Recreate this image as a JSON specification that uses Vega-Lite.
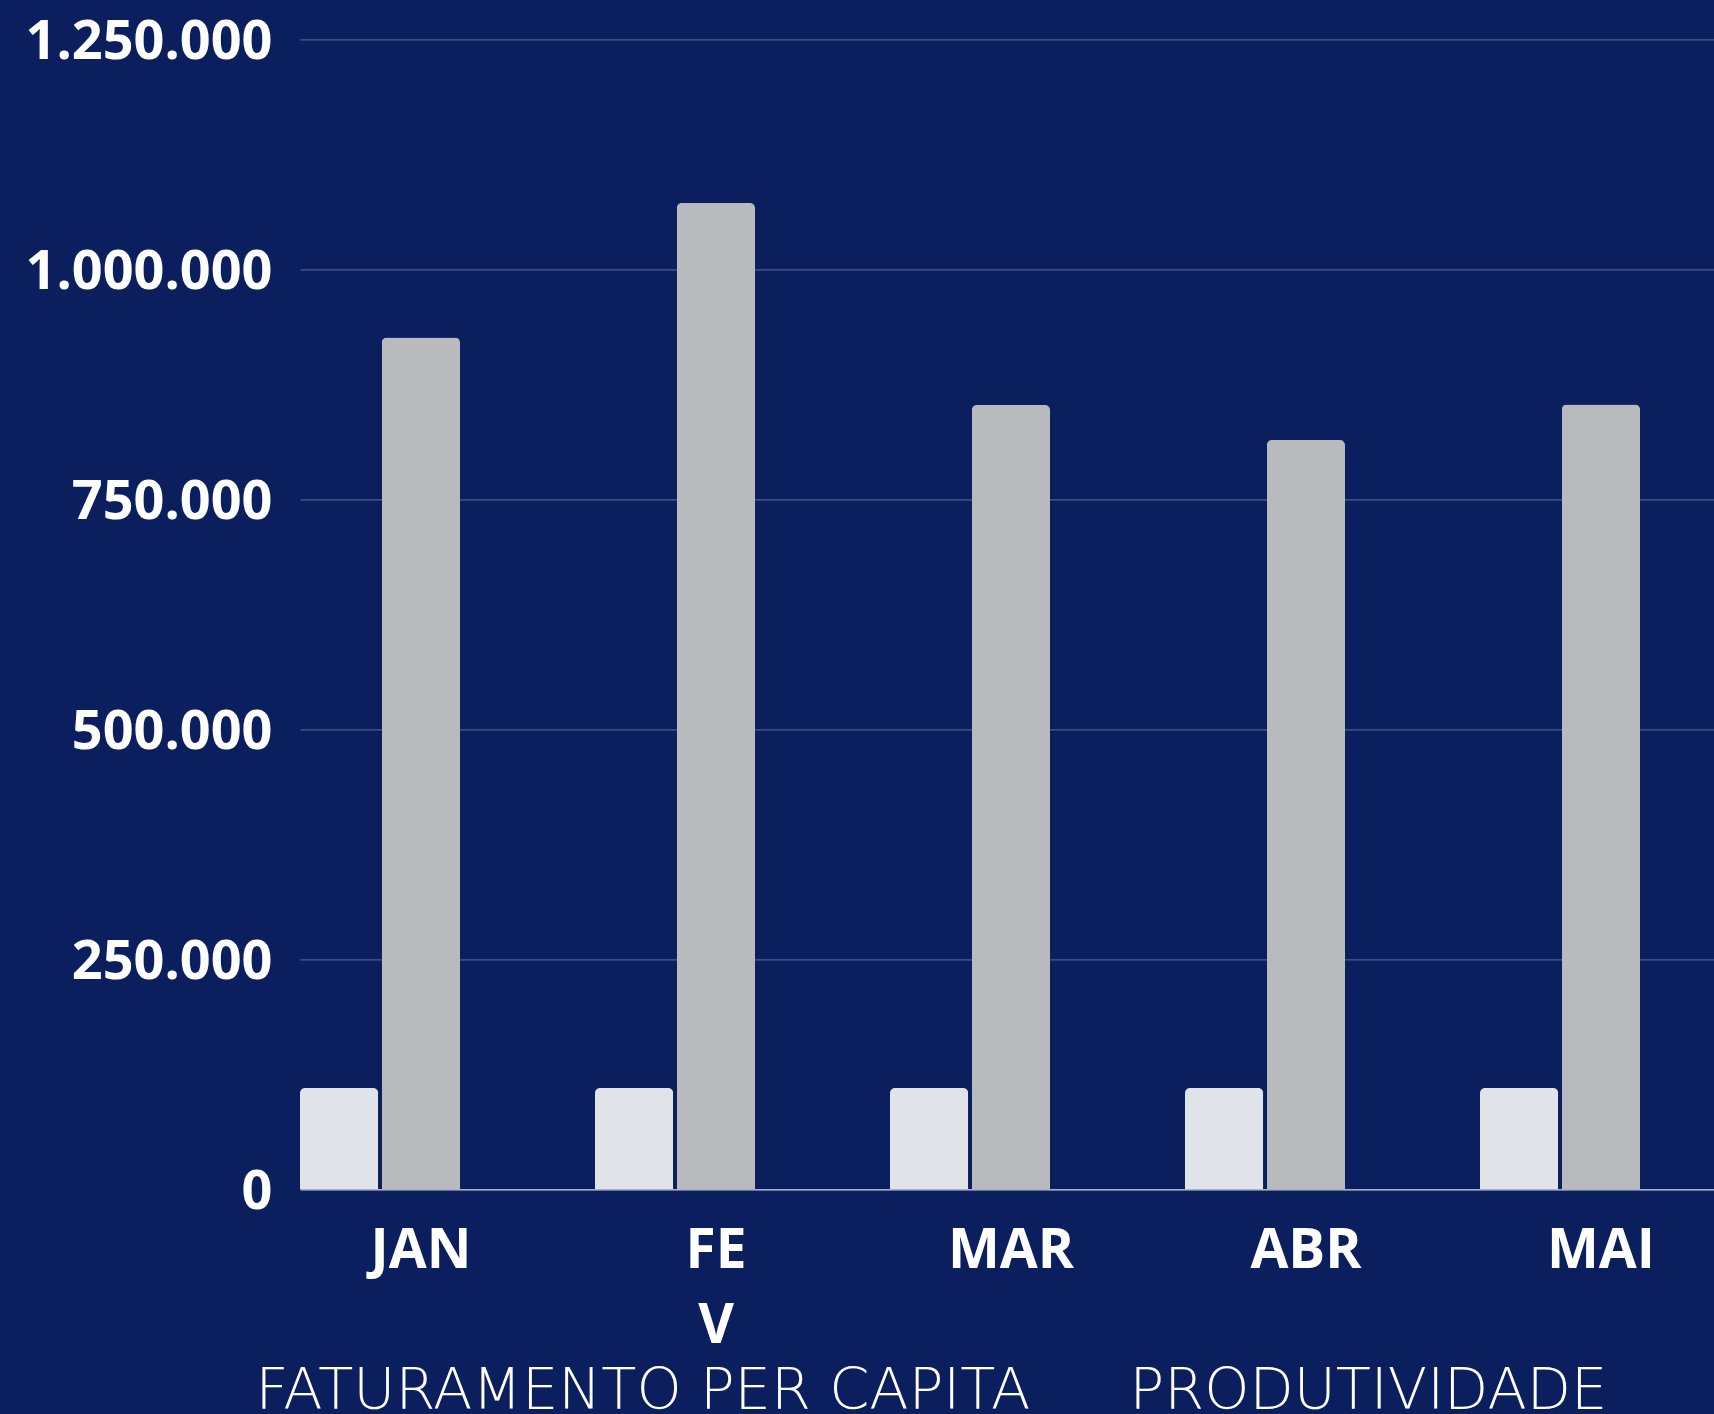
{
  "$schema": "https://vega.github.io/schema/vega-lite/v6.json",
  "width": 1414,
  "height": 1150,
  "autosize": {"type": "none"},
  "padding": {"left": 300, "top": 39.3, "right": 0, "bottom": 224.7},
  "background": "#0b1f5e",
  "config": {
    "view": {"stroke": null},
    "locale": {"number": {"decimal": ",", "thousands": ".", "grouping": [3], "currency": ["R$", ""]}}
  },
  "data": {
    "values": [
      {"mes": "JAN", "serie": "FATURAMENTO PER CAPITA", "valor": 110000},
      {"mes": "JAN", "serie": "PRODUTIVIDADE", "valor": 926000},
      {"mes": "FEV", "serie": "FATURAMENTO PER CAPITA", "valor": 110000},
      {"mes": "FEV", "serie": "PRODUTIVIDADE", "valor": 1072000},
      {"mes": "MAR", "serie": "FATURAMENTO PER CAPITA", "valor": 110000},
      {"mes": "MAR", "serie": "PRODUTIVIDADE", "valor": 852500},
      {"mes": "ABR", "serie": "FATURAMENTO PER CAPITA", "valor": 110000},
      {"mes": "ABR", "serie": "PRODUTIVIDADE", "valor": 814500},
      {"mes": "MAI", "serie": "FATURAMENTO PER CAPITA", "valor": 110000},
      {"mes": "MAI", "serie": "PRODUTIVIDADE", "valor": 853000}
    ]
  },
  "mark": {"type": "bar", "cornerRadiusTopLeft": 5, "cornerRadiusTopRight": 5},
  "encoding": {
    "x": {
      "field": "mes",
      "type": "nominal",
      "sort": ["JAN", "FEV", "MAR", "ABR", "MAI"],
      "scale": {"paddingInner": 0.4576, "paddingOuter": 0.1254, "align": 0},
      "axis": {
        "title": null,
        "labelAngle": 0,
        "labelFont": "Open Sans",
        "labelFontWeight": 700,
        "labelFontSize": 55,
        "labelColor": "#ffffff",
        "labelOffset": 41,
        "labelPadding": 35,
        "labelLineHeight": 75,
        "labelBaseline": "top",
        "labelExpr": "datum.value == 'FEV' ? ['FE', 'V'] : datum.value",
        "ticks": false,
        "tickSize": 0,
        "domain": true,
        "domainColor": "#a9adc6",
        "domainWidth": 1.5,
        "grid": false
      }
    },
    "xOffset": {
      "field": "serie",
      "type": "nominal",
      "sort": ["FATURAMENTO PER CAPITA", "PRODUTIVIDADE"],
      "scale": {"paddingInner": 0.044}
    },
    "y": {
      "field": "valor",
      "type": "quantitative",
      "scale": {"domain": [0, 1250000], "nice": false},
      "axis": {
        "title": null,
        "values": [0, 250000, 500000, 750000, 1000000, 1250000],
        "format": ",d",
        "labelFont": "Open Sans",
        "labelFontWeight": 700,
        "labelFontSize": 54,
        "labelColor": "#ffffff",
        "labelPadding": 28,
        "labelOffset": 3,
        "labelLimit": 500,
        "labelOverlap": false,
        "ticks": false,
        "tickSize": 0,
        "domain": false,
        "grid": true,
        "gridColor": "#4e5c93",
        "gridWidth": 1.2
      }
    },
    "color": {
      "field": "serie",
      "type": "nominal",
      "sort": ["FATURAMENTO PER CAPITA", "PRODUTIVIDADE"],
      "scale": {"domain": ["FATURAMENTO PER CAPITA", "PRODUTIVIDADE"], "range": ["#e0e3e8", "#b9babe"]},
      "legend": {
        "title": null,
        "orient": "none",
        "direction": "horizontal",
        "legendX": -102,
        "legendY": 1324,
        "padding": 0,
        "symbolSize": 0,
        "symbolOpacity": 0,
        "symbolStrokeWidth": 0,
        "labelOffset": 0,
        "columnPadding": 41,
        "labelFont": "DejaVu Sans",
        "labelFontWeight": 200,
        "labelFontSize": 57.5,
        "labelColor": "#ffffff",
        "labelLimit": 2000
      }
    }
  }
}
